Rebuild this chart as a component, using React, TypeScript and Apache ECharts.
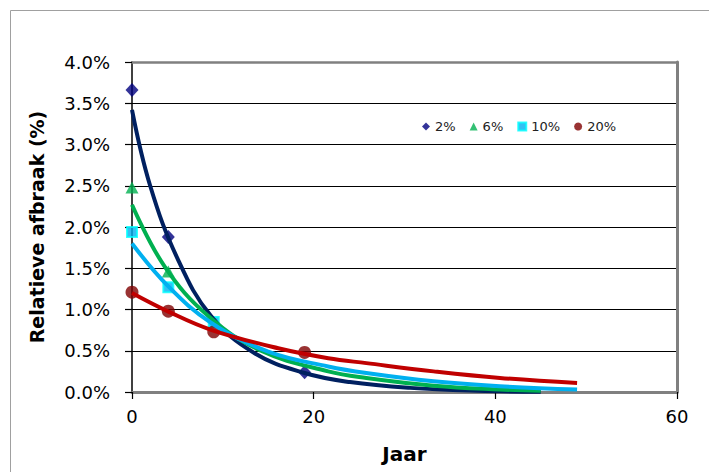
import React, { useEffect, useRef } from "react";
import * as echarts from "echarts";

// Legend / series names
const seriesNames = ["2%", "6%", "10%", "20%"];

// Measured points (Jaar, relatieve afbraak in %)
const points2 = [[0, 3.66], [4, 1.88], [19, 0.24]];
const points6 = [[0, 2.48], [4, 1.46]];
const points10 = [[0, 1.94], [4, 1.27], [9, 0.85]];
const points20 = [[0, 1.21], [4, 0.98], [9, 0.73], [19, 0.48]];

// Fitted curves
const fit2 = [[0, 3.42], [2, 2.5], [5, 1.62], [8.7, 0.92], [13.5, 0.47], [19, 0.23], [24, 0.12], [30.6, 0.05], [38, 0.015], [45, 0.004]];
const fit6 = [[0, 2.27], [3.6, 1.52], [8.4, 0.92], [14.2, 0.5], [21.6, 0.25], [25.8, 0.17], [33.2, 0.076], [40.5, 0.03], [45, 0.015]];
const fit10 = [[0, 1.8], [4, 1.28], [8.7, 0.84], [15, 0.49], [21.6, 0.31], [25.8, 0.23], [33.2, 0.13], [40.5, 0.07], [49, 0.03]];
const fit20 = [[0, 1.2], [4, 0.975], [8.7, 0.754], [16.1, 0.53], [21.6, 0.41], [25.8, 0.35], [33.2, 0.25], [40.5, 0.17], [49, 0.11]];

// Axis ranges
const xMin = 0, xMax = 60, xStep = 20;
const yMin = 0, yMax = 4, yStep = 0.5;

const FONT = "DejaVu Sans";

export default function App() {
  const ref = useRef<HTMLDivElement>(null);

  useEffect(() => {
    if (!ref.current) return;
    const chart = echarts.init(ref.current, null, { renderer: "svg" });

    const lineSeries = (name: string, data: number[][], color: string) => ({
      name,
      type: "line",
      data,
      smooth: 0.4,
      showSymbol: false,
      symbol: "none",
      z: 4,
      lineStyle: { color, width: 4 },
      silent: true,
    });

    chart.setOption({
      animation: false,
      backgroundColor: "#ffffff",
      graphic: [
        {
          type: "rect",
          silent: true,
          z: -10,
          shape: { x: 10.5, y: 10.5, width: 740, height: 500 },
          style: { fill: "none", stroke: "#a0a0a0", lineWidth: 1 },
        },
      ],
      grid: { left: 132, right: 32, top: 62, bottom: 80, containLabel: false },
      legend: {
        left: 417,
        top: 115,
        itemWidth: 8,
        itemHeight: 8,
        itemGap: 14,
        data: seriesNames,
        textStyle: { fontFamily: FONT, fontSize: 13, color: "#222" },
      },
      xAxis: [
        {
          type: "value",
          min: xMin,
          max: xMax,
          interval: xStep,
          name: "Jaar",
          nameLocation: "middle",
          nameGap: 52,
          nameTextStyle: { fontFamily: FONT, fontWeight: "bold", fontSize: 20, color: "#000" },
          axisLine: { show: true, lineStyle: { color: "#808080", width: 3 } },
          axisTick: { show: true, length: 7, lineStyle: { color: "#000", width: 1.2 } },
          axisLabel: { margin: 15, fontFamily: FONT, fontSize: 18, color: "#000" },
          splitLine: { show: false },
        },
        {
          type: "value",
          position: "top",
          min: xMin,
          max: xMax,
          interval: xStep,
          axisLine: { show: true, onZero: false, lineStyle: { color: "#808080", width: 2.5 } },
          axisTick: { show: false },
          axisLabel: { show: false },
          splitLine: { show: false },
        },
      ],
      yAxis: [
        {
          type: "value",
          min: yMin,
          max: yMax,
          interval: yStep,
          name: "Relatieve afbraak (%)",
          nameLocation: "middle",
          nameGap: 86,
          nameTextStyle: { fontFamily: FONT, fontWeight: "bold", fontSize: 19, color: "#000" },
          axisLine: { show: true, onZero: false, lineStyle: { color: "#000", width: 1.5 } },
          axisTick: { show: true, length: 7, lineStyle: { color: "#000", width: 1.2 } },
          axisLabel: {
            margin: 22,
            fontFamily: FONT,
            fontSize: 18,
            color: "#000",
            formatter: (v: number) => v.toFixed(1) + "%",
          },
          splitLine: { show: true, lineStyle: { color: "#000", width: 1.2 } },
        },
        {
          type: "value",
          position: "right",
          min: yMin,
          max: yMax,
          interval: yStep,
          axisLine: { show: true, onZero: false, lineStyle: { color: "#808080", width: 3 } },
          axisTick: { show: false },
          axisLabel: { show: false },
          splitLine: { show: false },
        },
      ],
      series: [
        {
          name: seriesNames[0],
          type: "scatter",
          data: points2,
          symbol: "diamond",
          symbolSize: [13, 14],
          z: 3,
          itemStyle: { color: "#000080" },
        },
        {
          name: seriesNames[1],
          type: "scatter",
          data: points6,
          symbol: "triangle",
          symbolSize: [13, 12],
          z: 3,
          itemStyle: { color: "#00B050" },
        },
        {
          name: seriesNames[2],
          type: "scatter",
          data: points10,
          symbol: "rect",
          symbolSize: 10,
          z: 3,
          itemStyle: { color: "#00B0F0", borderColor: "#00FFFF", borderWidth: 2 },
        },
        {
          name: seriesNames[3],
          type: "scatter",
          data: points20,
          symbol: "circle",
          symbolSize: 13,
          z: 3,
          itemStyle: { color: "#800000" },
        },
        lineSeries("fit 2%", fit2, "#002060"),
        lineSeries("fit 6%", fit6, "#00B050"),
        lineSeries("fit 10%", fit10, "#00B0F0"),
        lineSeries("fit 20%", fit20, "#C00000"),
      ],
    });

    return () => chart.dispose();
  }, []);

  return (
    <div
      ref={ref}
      style={{ position: "absolute", left: 0, top: 0, width: 709, height: 472 }}
    />
  );
}
